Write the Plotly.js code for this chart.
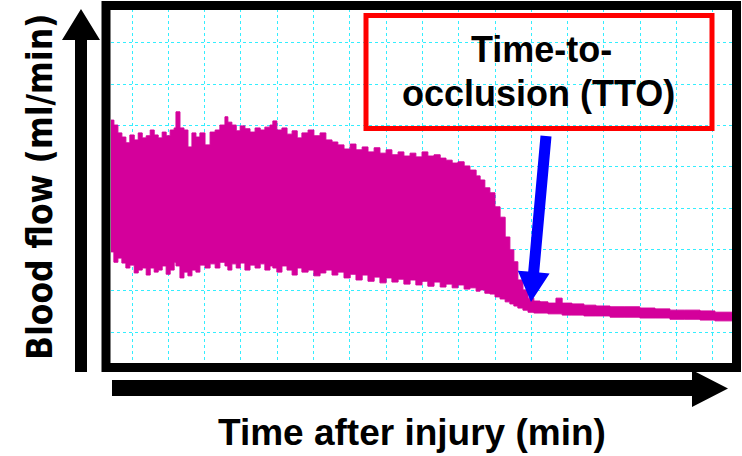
<!DOCTYPE html>
<html>
<head>
<meta charset="utf-8">
<script src="https://cdn.plot.ly/plotly-3.0.1.min.js"></script>
<style>html,body{margin:0;padding:0;background:#fff;}#chart{width:742px;height:456px;}</style>
</head>
<body>
<div id="chart"></div>
<script>
// Time after injury (arbitrary minutes, grid = 1 unit)
const time = [0.42,0.50,0.61,0.72,0.83,0.94,1.06,1.17,1.28,1.39,1.50,1.61,1.72,1.83,1.94,2.05,2.16,2.21,2.32,2.43,2.54,2.65,2.76,2.87,3.01,3.15,3.29,3.42,3.56,3.64,3.75,3.87,3.98,4.11,4.25,4.39,4.53,4.66,4.80,4.88,4.99,5.13,5.27,5.41,5.55,5.68,5.85,6.01,6.18,6.34,6.51,6.67,6.84,7.01,7.17,7.34,7.50,7.67,7.83,8.00,8.16,8.33,8.49,8.66,8.82,8.99,9.15,9.32,9.49,9.65,9.82,9.98,10.15,10.31,10.48,10.59,10.72,10.86,11.00,11.14,11.28,11.41,11.52,11.63,11.77,11.91,12.07,12.24,12.46,12.68,12.85,13.12,13.45,13.78,14.17,14.58,14.99,15.41,15.82,16.23,16.65,17.06,17.53];
// Upper envelope of pulsatile blood flow signal
const upperFlow = [6.13,6.01,5.82,5.72,5.58,5.77,5.65,5.82,5.70,5.75,5.89,5.77,5.70,5.84,5.75,5.89,5.94,6.33,5.94,5.89,5.48,5.82,5.72,5.82,5.53,5.84,5.89,6.01,6.21,6.08,6.01,5.87,5.99,5.92,5.84,5.94,5.89,5.96,6.01,6.11,5.89,5.94,5.79,5.87,5.70,5.82,5.89,5.75,5.82,5.65,5.60,5.53,5.43,5.55,5.41,5.48,5.36,5.46,5.33,5.41,5.29,5.36,5.26,5.33,5.24,5.36,5.26,5.29,5.21,5.16,5.09,5.12,5.02,4.92,4.78,4.68,4.49,4.37,4.03,3.78,3.30,2.99,2.70,2.26,2.02,1.82,1.75,1.73,1.70,1.82,1.70,1.68,1.65,1.63,1.61,1.61,1.58,1.56,1.53,1.53,1.51,1.48,1.48];
// Lower envelope of pulsatile blood flow signal
const lowerFlow = [2.94,2.69,2.79,2.67,2.55,2.62,2.43,2.50,2.55,2.38,2.55,2.45,2.50,2.60,2.40,2.50,2.69,2.60,2.31,2.45,2.36,2.50,2.45,2.62,2.55,2.65,2.55,2.69,2.60,2.50,2.65,2.55,2.67,2.50,2.62,2.55,2.65,2.50,2.60,2.55,2.45,2.60,2.50,2.38,2.55,2.45,2.50,2.36,2.43,2.50,2.38,2.45,2.31,2.40,2.26,2.38,2.23,2.33,2.19,2.31,2.21,2.28,2.16,2.26,2.14,2.23,2.11,2.21,2.09,2.16,2.07,2.14,2.04,2.07,1.99,2.02,1.94,1.92,1.85,1.80,1.73,1.68,1.63,1.58,1.53,1.48,1.46,1.46,1.44,1.44,1.41,1.41,1.39,1.39,1.36,1.36,1.34,1.34,1.31,1.31,1.29,1.27,1.27];

const xTitle = 'Time after injury (min)';
const yTitle = 'Blood flow (ml/min)';
const boxLines = ['Time-to-', 'occlusion (TTO)'];

const W = 742, H = 456, ML = 111, MR = 10, MT = 9, MB = 93;
const PW = W - ML - MR, PH = H - MT - MB;
const px = v => (v - ML) / PW;
const py = v => (H - MB - v) / PH;
const path = pts => 'M ' + pts.map(p => px(p[0]).toFixed(5) + ',' + py(p[1]).toFixed(5)).join(' L ') + ' Z';

const MAG = '#D4009B';
const traces = [
  {x: time, y: lowerFlow, mode: 'lines', line: {color: MAG, width: 1, shape: 'hv'}, hoverinfo: 'skip', showlegend: false},
  {x: time, y: upperFlow, mode: 'lines', fill: 'tonexty', fillcolor: MAG, line: {color: MAG, width: 1, shape: 'hv'}, hoverinfo: 'skip', showlegend: false}
];

const grid = {showgrid: true, gridcolor: '#33EEFF', gridwidth: 1, griddash: 'dot', zeroline: false, showticklabels: false, ticks: '', showline: false, dtick: 1, tick0: 0};

const layout = {
  width: W, height: H,
  margin: {l: ML, r: MR, t: MT, b: MB, pad: 0},
  paper_bgcolor: '#ffffff', plot_bgcolor: '#ffffff',
  showlegend: false,
  xaxis: Object.assign({range: [0.42, 17.53]}, grid),
  yaxis: Object.assign({range: [0.25, 8.82]}, grid),
  shapes: [
    // black frame
    {type: 'rect', xref: 'paper', yref: 'paper', x0: px(106), x1: px(736.5), y0: py(367.5), y1: py(5.5), line: {color: '#000', width: 9}, layer: 'above'},
    // y arrow
    {type: 'path', xref: 'paper', yref: 'paper', path: path([[75,372],[75,40],[62,40],[81,9],[100,40],[87,40],[87,372]]), fillcolor: '#000', line: {width: 0}, layer: 'above'},
    // x arrow
    {type: 'path', xref: 'paper', yref: 'paper', path: path([[112,380],[692,380],[692,370],[728,388.5],[692,407],[692,396],[112,396]]), fillcolor: '#000', line: {width: 0}, layer: 'above'},
    // red box
    {type: 'rect', xref: 'paper', yref: 'paper', x0: px(366), x1: px(712), y0: py(128.5), y1: py(15.5), line: {color: '#FF0000', width: 5}, layer: 'above'},
    // blue arrow
    {type: 'path', xref: 'paper', yref: 'paper', path: path([[540.5,135.5],[551.5,136.5],[539.2,272.6],[549.6,273.5],[531,302],[517.8,270.7],[528.2,271.6]]), fillcolor: '#0000FF', line: {width: 0}, layer: 'above'}
  ],
  annotations: [
    {text: boxLines[0], xref: 'paper', yref: 'paper', x: px(541), y: py(50), xanchor: 'center', yanchor: 'middle', showarrow: false, font: {family: 'Liberation Sans, Arial, sans-serif', size: 36, color: '#000', weight: 'bold'}},
    {text: boxLines[1], xref: 'paper', yref: 'paper', x: px(538), y: py(94), xanchor: 'center', yanchor: 'middle', showarrow: false, font: {family: 'Liberation Sans, Arial, sans-serif', size: 36, color: '#000', weight: 'bold'}},
    {text: xTitle, xref: 'paper', yref: 'paper', x: px(412), y: py(432), xanchor: 'center', yanchor: 'middle', showarrow: false, font: {family: 'Liberation Sans, Arial, sans-serif', size: 37, color: '#000', weight: 'bold'}},
    {text: yTitle, xref: 'paper', yref: 'paper', x: px(40), y: py(187), xanchor: 'center', yanchor: 'middle', textangle: -90, showarrow: false, font: {family: 'DejaVu Sans Condensed, DejaVu Sans, sans-serif', size: 35, color: '#000', weight: 'bold'}}
  ]
};

Plotly.newPlot('chart', traces, layout, {staticPlot: true, displayModeBar: false});
</script>
</body>
</html>
